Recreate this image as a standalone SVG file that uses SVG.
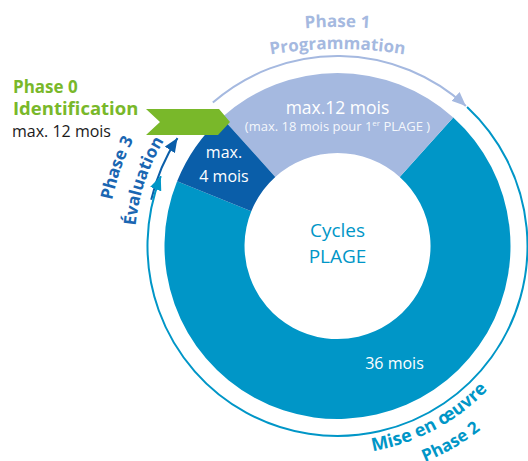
<svg xmlns="http://www.w3.org/2000/svg" width="528" height="461" viewBox="0 0 528 461">
<style>
text{font-family:"Open Sans","Noto Sans","Liberation Sans",sans-serif}
.b{font-weight:bold}
.w{fill:#ffffff}
.arc{fill:none;stroke-width:2}
</style>
<defs>
<marker id="mLight" markerUnits="userSpaceOnUse" viewBox="0 0 14 12" refX="14" refY="6" markerWidth="14" markerHeight="12" orient="auto"><path d="M0,0 L14,6 L0,12 z" fill="#a5b9e0"/></marker>
<marker id="mTeal" markerUnits="userSpaceOnUse" viewBox="0 0 14 12" refX="14" refY="6" markerWidth="14" markerHeight="12" orient="auto"><path d="M0,0 L14,6 L0,12 z" fill="#0096c7"/></marker>
<marker id="mDark" markerUnits="userSpaceOnUse" viewBox="0 0 14 12" refX="14" refY="6" markerWidth="14" markerHeight="12" orient="auto"><path d="M0,0 L14,6 L0,12 z" fill="#0a5ea9"/></marker>
<path id="pPhase1" d="M193.2,52.4 A422,422 0 0 1 481.8,52.4"/>
<path id="pProg" d="M200.7,73.1 A400,400 0 0 1 474.3,73.1"/>
<path id="pEval" d="M137.6,281.2 A203,203 0 0 1 199.1,97.5"/>
<path id="pPh3" d="M108.6,268 A230,230 0 0 1 173.5,84.7"/>
<path id="pMise" d="M319.4,453.2 A208,208 0 0 0 519.4,346.8"/>
<path id="pPh2" d="M337.5,479 A233,233 0 0 0 539.3,362.5"/>
</defs>

<g id="seg-mise-en-oeuvre">
<path d="M453.26,117.44 A173,173 0 1 1 177.1,181.2 L251.3,211.2 A93,93 0 1 0 399.73,176.89 Z" fill="#0096c7"/>
<text class="w" x="394.5" y="369.3" font-size="16" text-anchor="middle">36 mois</text>
</g>
<g id="seg-programmation">
<path d="M221.74,117.44 A173,173 0 0 1 453.26,117.44 L399.73,176.89 A93,93 0 0 0 275.27,176.89 Z" fill="#a5b9e0"/>
<text class="w" x="337.5" y="113.5" font-size="17.5" text-anchor="middle">max.12 mois</text>
<text class="w" x="337.5" y="131" font-size="13" text-anchor="middle" fill-opacity="0.9">(max. 18 mois pour 1<tspan font-size="8" dy="-5">er</tspan><tspan dy="5"> PLAGE )</tspan></text>
</g>
<g id="seg-evaluation">
<path d="M177.1,181.2 A173,173 0 0 1 221.74,117.44 L275.27,176.89 A93,93 0 0 0 251.3,211.2 Z" fill="#0a5ea9"/>
<text class="w" x="224" y="158" font-size="16" text-anchor="middle">max.</text>
<text class="w" x="224" y="182" font-size="16" text-anchor="middle">4 mois</text>
</g>
<g id="center">
<text x="337.5" y="237.3" font-size="19" fill="#0096c7" text-anchor="middle">Cycles</text>
<text x="337.5" y="263.3" font-size="19" fill="#0096c7" text-anchor="middle">PLAGE</text>
</g>
<g id="phase0">
<polygon points="146,109 219,109 230,122 218,135 146,135 160,122" fill="#79b82a"/>
<text class="b" x="13" y="92.5" font-size="17" fill="#79b82a">Phase 0</text>
<text class="b" x="13" y="115" font-size="18.5" fill="#79b82a">Identification</text>
<text x="12" y="137.3" font-size="16" fill="#1a1a1a">max. 12 mois</text>
</g>

<g id="connectors">
<path class="arc" stroke="#0a5ea9" d="M151.2,199.8 A192,192 0 0 1 177.5,138.1" marker-end="url(#mDark)"/>
<path class="arc" stroke="#a5b9e0" d="M212.84,102.61 A190,190 0 0 1 465.87,105.91" marker-end="url(#mLight)"/>
<path class="arc" stroke="#0096c7" d="M467.08,107.03 A190,190 0 1 1 160.8,176.1" marker-end="url(#mTeal)"/>
</g>

<g id="phase-labels">
<text class="b" font-size="17" fill="#a5b9e0"><textPath href="#pPhase1" startOffset="50%" text-anchor="middle">Phase 1</textPath></text>
<text class="b" font-size="17" fill="#a5b9e0"><textPath href="#pProg" startOffset="50%" text-anchor="middle">Programmation</textPath></text>
<text class="b" font-size="17" fill="#1a66b2"><textPath href="#pEval" startOffset="50%" text-anchor="middle">Évaluation</textPath></text>
<text class="b" font-size="17" fill="#1a66b2"><textPath href="#pPh3" startOffset="50%" text-anchor="middle">Phase 3</textPath></text>
<text class="b" font-size="18" fill="#0096c7"><textPath href="#pMise" startOffset="50%" text-anchor="middle">Mise en œuvre</textPath></text>
<text class="b" font-size="17" fill="#0096c7"><textPath href="#pPh2" startOffset="50%" text-anchor="middle">Phase 2</textPath></text>
</g>
</svg>
